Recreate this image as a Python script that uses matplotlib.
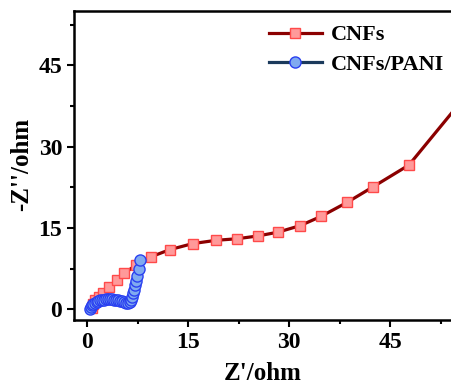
import matplotlib
matplotlib.use('Agg')
import matplotlib.pyplot as plt
from matplotlib.ticker import MultipleLocator

plt.rcParams['font.family'] = ['Liberation Serif', 'DejaVu Serif']
plt.rcParams['font.weight'] = 'bold'

# CNFs
cnf_x = [0.7, 0.9, 1.14, 1.78, 2.38, 3.22, 4.37, 5.45, 7.19, 9.42, 12.29, 15.66, 19.1,
         22.3, 25.3, 28.3, 31.6, 34.7, 38.6, 42.5, 47.8, 56.0]
cnf_y = [0.3, 0.9, 1.66, 2.27, 2.9, 4.1, 5.35, 6.6, 8.1, 9.65, 11.0, 12.1, 12.7,
         13.0, 13.5, 14.2, 15.4, 17.1, 19.7, 22.6, 26.6, 39.0]

# CNFs/PANI
pani_x = [0.45, 0.55, 0.7, 0.9, 1.1, 1.35, 1.6, 1.9, 2.2, 2.5, 2.8, 3.1, 3.4, 3.7, 4.0,
          4.3, 4.6, 4.9, 5.2, 5.5, 5.8, 6.05, 6.3, 6.5, 6.65, 6.8, 6.95, 7.1, 7.25,
          7.4, 7.6, 7.8]
pani_y = [0.05, 0.4, 0.7, 1.0, 1.2, 1.4, 1.55, 1.65, 1.72, 1.78, 1.8, 1.82, 1.82, 1.8,
          1.78, 1.72, 1.65, 1.55, 1.42, 1.3, 1.2, 1.2, 1.35, 1.7, 2.2, 2.9, 3.6, 4.4,
          5.2, 6.2, 7.5, 9.0]

fig = plt.figure(figsize=(4.52, 3.84), dpi=100)
ax = fig.add_axes([0.1637, 0.1667, 0.8363, 0.8043])

ax.plot(cnf_x, cnf_y, color='#8b0000', lw=2.3, marker='s', ms=7.5,
        mfc='#ff9a9a', mec='#ff4a4a', mew=1.0, label='CNFs')
ax.plot(pani_x, pani_y, color='#1b3a5c', lw=2.3, marker='o', ms=8,
        mfc='#80aaf0', mec='#2a40f0', mew=1.0, label='CNFs/PANI')

ax.set_xlim(-2, 54.2)
ax.set_ylim(-2, 55)
ax.xaxis.set_major_locator(MultipleLocator(15))
ax.xaxis.set_minor_locator(MultipleLocator(7.5))
ax.yaxis.set_major_locator(MultipleLocator(15))
ax.yaxis.set_minor_locator(MultipleLocator(7.5))
ax.tick_params(which='both', direction='out', width=1.5, labelsize=17)
ax.tick_params(which='major', length=5)
ax.tick_params(which='minor', length=3)
for lab in ax.get_xticklabels() + ax.get_yticklabels():
    lab.set_fontweight('bold')

for s in ['left', 'bottom', 'top']:
    ax.spines[s].set_linewidth(1.8)
ax.spines['right'].set_visible(False)

ax.set_xlabel("Z'/ohm", fontsize=18, fontweight='bold')
ax.xaxis.set_label_coords(0.5, -0.135)
ax.set_ylabel("-Z''/ohm", fontsize=18, fontweight='bold')
ax.yaxis.set_label_coords(-0.108, 0.505)

ax.legend(loc='upper right', bbox_to_anchor=(0.978, 0.956), frameon=False,
          prop={'size': 16, 'weight': 'bold'}, handlelength=2.35, handletextpad=0.4,
          labelspacing=0.4, borderpad=0, borderaxespad=0)

fig.savefig('out.png', dpi=100)
